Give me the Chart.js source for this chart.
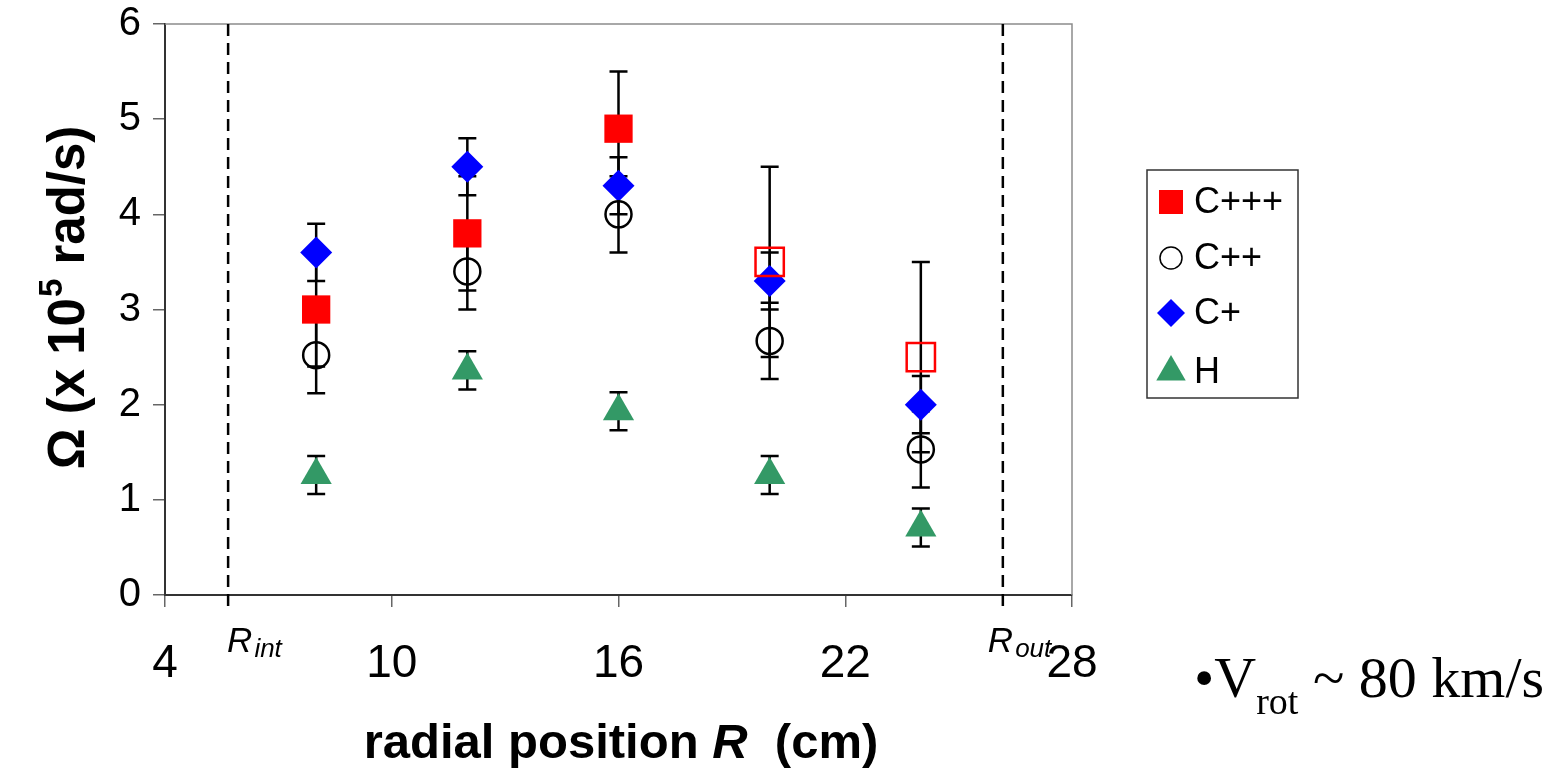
<!DOCTYPE html>
<html>
<head>
<meta charset="utf-8">
<script src="https://cdn.jsdelivr.net/npm/chart.js@4"></script>
<style>
  html, body { margin: 0; padding: 0; background: #fff; }
  canvas { display: block; }
</style>
</head>
<body>
<canvas id="omegaChart" width="1560" height="773"></canvas>
<script>
// ========================== DATA =============================

const radialPos = [8, 12, 16, 20, 24];

const cTriple = [3.0, 3.8, 4.9, 3.5, 2.5];
const cTripleErr = [0.6, 0.6, 0.6, 1.0, 1.0];
const cTripleHollow = [false, false, false, true, true];

const cDouble = [2.52, 3.4, 4.0, 2.67, 1.53];
const cDoubleErr = [0.4, 0.4, 0.4, 0.4, 0.4];

const cSingle = [3.6, 4.5, 4.3, 3.3, 2.0];
const cSingleErr = [0.3, 0.3, 0.3, 0.3, 0.3];

const hydrogen = [1.26, 2.36, 1.93, 1.26, 0.71];
const hydrogenErr = [0.2, 0.2, 0.2, 0.2, 0.2];

const xTicks = [4, 10, 16, 22, 28];
const yTicks = [0, 1, 2, 3, 4, 5, 6];

// wall positions (dashed lines)
const rInt = 5.67;
const rOut = 26.17;

// ========================== HELPERS =============================

const SANS = "'Liberation Sans', Arial, sans-serif";
const SERIF = "'Liberation Serif', 'Times New Roman', serif";

function toPoints(ys) {
  return ys.map((y, i) => ({ x: radialPos[i], y: y }));
}

// ========================== PLUGINS =============================

// error bars, drawn under the markers
const errorBars = {
  id: "errorBars",
  beforeDatasetsDraw(chart) {
    const ctx = chart.ctx;
    const xs = chart.scales.x;
    const ys = chart.scales.y;
    ctx.save();
    ctx.strokeStyle = "#000";
    ctx.lineWidth = 2.5;
    chart.data.datasets.forEach((ds) => {
      ds.data.forEach((p, i) => {
        const e = ds.errors[i];
        const px = xs.getPixelForValue(p.x);
        const yTop = ys.getPixelForValue(p.y + e);
        const yBot = ys.getPixelForValue(p.y - e);
        ctx.beginPath();
        ctx.moveTo(px, yTop);
        ctx.lineTo(px, yBot);
        ctx.moveTo(px - 9, yTop);
        ctx.lineTo(px + 9, yTop);
        ctx.moveTo(px - 9, yBot);
        ctx.lineTo(px + 9, yBot);
        ctx.stroke();
      });
    });
    ctx.restore();
  },
};

// frame, dashed wall lines, axis titles, legend, notes
const decorations = {
  id: "decorations",
  beforeDatasetsDraw(chart) {
    const { ctx, chartArea } = chart;
    const xs = chart.scales.x;
    ctx.save();
    // grey frame top / right
    ctx.strokeStyle = "#8c8c8c";
    ctx.lineWidth = 1.5;
    ctx.beginPath();
    ctx.moveTo(chartArea.left, chartArea.top);
    ctx.lineTo(chartArea.right, chartArea.top);
    ctx.lineTo(chartArea.right, chartArea.bottom);
    ctx.stroke();

    // dashed walls
    ctx.strokeStyle = "#000";
    ctx.lineWidth = 2.5;
    ctx.setLineDash([12, 7]);
    [rInt, rOut].forEach((v) => {
      const px = xs.getPixelForValue(v);
      ctx.beginPath();
      ctx.moveTo(px, chartArea.top);
      ctx.lineTo(px, chartArea.bottom + 12);
      ctx.stroke();
    });
    ctx.setLineDash([]);
    ctx.restore();
  },
  afterDraw(chart) {
    const { ctx } = chart;
    const xs = chart.scales.x;
    ctx.save();
    ctx.fillStyle = "#000";
    ctx.textBaseline = "alphabetic";
    ctx.textAlign = "left";

    // R_int / R_out labels
    const wallLabel = (v, sub) => {
      const px = xs.getPixelForValue(v);
      ctx.font = "italic 35px " + SANS;
      ctx.fillText("R", px - 1, 652);
      const w = ctx.measureText("R").width;
      ctx.font = "italic 26px " + SANS;
      ctx.fillText(sub, px - 1 + w + 2, 657);
    };
    wallLabel(rInt, "int");
    wallLabel(rOut - 0.37, "out");

    // x axis title
    const t1 = "radial position ";
    const t3 = "  (cm)";
    ctx.font = "bold 49px " + SANS;
    const w1 = ctx.measureText(t1).width;
    const w3 = ctx.measureText(t3).width;
    ctx.font = "italic bold 49px " + SANS;
    const w2 = ctx.measureText("R").width;
    const xStart = 621 - (w1 + w2 + w3) / 2;
    ctx.font = "bold 49px " + SANS;
    ctx.fillText(t1, xStart, 758);
    ctx.font = "italic bold 49px " + SANS;
    ctx.fillText("R", xStart + w1, 758);
    ctx.font = "bold 49px " + SANS;
    ctx.fillText(t3, xStart + w1 + w2, 758);

    // y axis title (rotated)
    ctx.save();
    ctx.translate(84, 298);
    ctx.rotate(-Math.PI / 2);
    const big = "bold 51px " + SANS;
    const sup = "bold 33px " + SANS;
    const a = "\u03A9 (x 10";
    const b = "5";
    const c = " rad/s)";
    ctx.font = big;
    const wa = ctx.measureText(a).width;
    const wc = ctx.measureText(c).width;
    ctx.font = sup;
    const wb = ctx.measureText(b).width;
    const sx = -(wa + wb + wc) / 2;
    ctx.font = big;
    ctx.fillText(a, sx, 0);
    ctx.font = sup;
    ctx.fillText(b, sx + wa + 1, -22);
    ctx.font = big;
    ctx.fillText(c, sx + wa + wb + 1, 0);
    ctx.restore();

    // legend box
    ctx.strokeStyle = "#333";
    ctx.lineWidth = 1.5;
    ctx.strokeRect(1147, 170, 151, 228);
    const rows = [202, 258, 313, 372];
    chart.data.datasets.forEach((ds, i) => {
      const y = rows[i];
      ctx.save();
      ctx.fillStyle = ds.legendFill;
      ctx.strokeStyle = ds.legendStroke;
      Chart.helpers.drawPoint(
        ctx,
        { pointStyle: ds.pointStyle, radius: ds.legendRadius, borderWidth: ds.legendBorder, rotation: 0 },
        1171,
        y
      );
      ctx.restore();
      ctx.fillStyle = "#000";
      ctx.font = "36px " + SANS;
      ctx.textAlign = "left";
      ctx.textBaseline = "middle";
      ctx.fillText(ds.label, 1194, y + 1);
    });

    // V_rot note
    ctx.textBaseline = "alphabetic";
    ctx.textAlign = "left";
    ctx.font = "58px " + SERIF;
    let nx = 1194;
    ctx.fillText("\u2022V", nx, 697);
    nx += ctx.measureText("\u2022V").width;
    ctx.font = "38px " + SERIF;
    ctx.fillText("rot", nx, 714);
    nx += ctx.measureText("rot").width;
    ctx.font = "58px " + SERIF;
    ctx.fillText(" ~ 80 km/s", nx, 697);

    ctx.restore();
  },
};

// ========================== CHART =============================

const ctx = document.getElementById("omegaChart").getContext("2d");

new Chart(ctx, {
  type: "scatter",
  data: {
    datasets: [
      {
        label: "C+++",
        data: toPoints(cTriple),
        errors: cTripleErr,
        pointStyle: "rect",
        pointRadius: 20,
        pointBackgroundColor: cTripleHollow.map((h) => (h ? "rgba(0,0,0,0)" : "#ff0000")),
        pointBorderColor: "#ff0000",
        pointBorderWidth: cTripleHollow.map((h) => (h ? 2.5 : 0)),
        legendFill: "#ff0000",
        legendStroke: "#ff0000",
        legendRadius: 17,
        legendBorder: 0,
      },
      {
        label: "C++",
        data: toPoints(cDouble),
        errors: cDoubleErr,
        pointStyle: "circle",
        pointRadius: 13,
        pointBackgroundColor: "rgba(0,0,0,0)",
        pointBorderColor: "#000",
        pointBorderWidth: 2.5,
        legendFill: "rgba(0,0,0,0)",
        legendStroke: "#000",
        legendRadius: 11,
        legendBorder: 2.5,
      },
      {
        label: "C+",
        data: toPoints(cSingle),
        errors: cSingleErr,
        pointStyle: "rectRot",
        pointRadius: 16,
        pointBackgroundColor: "#0000ff",
        pointBorderColor: "#0000ff",
        pointBorderWidth: 0,
        legendFill: "#0000ff",
        legendStroke: "#0000ff",
        legendRadius: 14,
        legendBorder: 0,
      },
      {
        label: "H",
        data: toPoints(hydrogen),
        errors: hydrogenErr,
        pointStyle: "triangle",
        pointRadius: 18,
        pointBackgroundColor: "#339966",
        pointBorderColor: "#339966",
        pointBorderWidth: 0,
        legendFill: "#339966",
        legendStroke: "#339966",
        legendRadius: 17,
        legendBorder: 0,
      },
    ],
  },
  options: {
    responsive: false,
    animation: false,
    layout: { padding: { left: 0, top: 24, right: 488, bottom: 0 } },
    plugins: {
      legend: { display: false },
      tooltip: { enabled: false },
    },
    scales: {
      x: {
        type: "linear",
        min: 4,
        max: 28,
        afterBuildTicks: (scale) => {
          scale.ticks = xTicks.map((v) => ({ value: v }));
        },
        afterFit: (scale) => {
          scale.height = 178;
          scale.paddingLeft = 0;
          scale.paddingRight = 0;
        },
        grid: { drawOnChartArea: false, drawTicks: true, tickLength: 12, color: "#666", lineWidth: 1.5 },
        border: { color: "#333", width: 2 },
        ticks: {
          color: "#000",
          padding: 30,
          maxRotation: 0,
          font: { family: SANS, size: 46 },
        },
      },
      y: {
        type: "linear",
        min: 0,
        max: 6,
        afterBuildTicks: (scale) => {
          scale.ticks = yTicks.map((v) => ({ value: v }));
        },
        afterFit: (scale) => {
          scale.width = 165;
          scale.paddingTop = 0;
          scale.paddingBottom = 0;
        },
        grid: { drawOnChartArea: false, drawTicks: true, tickLength: 12, color: "#666", lineWidth: 1.5 },
        border: { color: "#333", width: 2 },
        ticks: {
          color: "#000",
          padding: 12,
          font: { family: SANS, size: 40 },
        },
      },
    },
  },
  plugins: [decorations, errorBars],
});
</script>
</body>
</html>
